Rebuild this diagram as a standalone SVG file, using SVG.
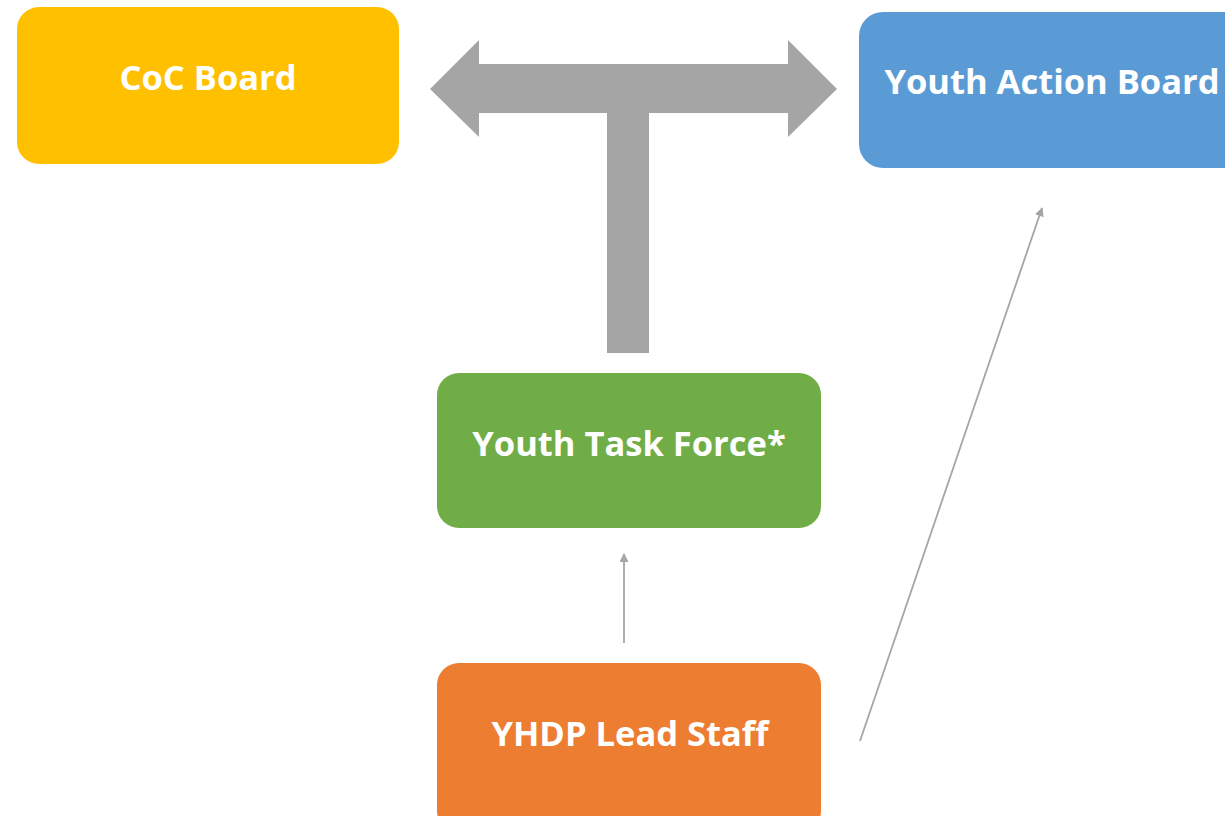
<svg xmlns="http://www.w3.org/2000/svg" width="1225" height="816" viewBox="0 0 1225 816">
  <defs>
    <style>
      .box-label { font-family: "Open Sans", "Liberation Sans", sans-serif; font-weight: 700; font-size: 34.5px; fill: #ffffff; text-anchor: middle; }
      .thin { stroke: #a5a5a5; stroke-width: 1.8; fill: none; marker-end: url(#head); }
    </style>
    <marker id="head" viewBox="0 0 10 10" refX="9" refY="5" markerWidth="10" markerHeight="9" orient="auto" markerUnits="userSpaceOnUse">
      <path d="M0,0 L10,5 L0,10 Z" fill="#a5a5a5"/>
    </marker>
  </defs>
  <rect width="1225" height="816" fill="#ffffff"/>

  <!-- connectors -->
  <g id="connectors">
    <!-- T-shaped double arrow from the task force up to both boards -->
    <path id="t-arrow" d="M430,89 L479,40 L479,64 L788,64 L788,40 L837,89 L788,137 L788,113 L649,113 L649,353 L607,353 L607,113 L479,113 L479,137 Z" fill="#a5a5a5"/>
    <line class="thin" x1="624" y1="643" x2="624" y2="554"/>
    <line class="thin" x1="860" y1="741" x2="1042" y2="208"/>
  </g>

  <g id="coc-board">
    <rect x="17" y="7" width="382" height="157" rx="22" fill="#ffc000"/>
    <text class="box-label" x="208" y="90">CoC Board</text>
  </g>

  <g id="youth-action-board">
    <rect x="859" y="12" width="400" height="156" rx="24" fill="#5b9bd5"/>
    <text class="box-label" x="1052" y="94">Youth Action Board</text>
  </g>

  <g id="youth-task-force">
    <rect x="437" y="373" width="384" height="155" rx="22" fill="#70ad47"/>
    <text class="box-label" x="629" y="456">Youth Task Force*</text>
  </g>

  <g id="yhdp-lead-staff">
    <rect x="437" y="663" width="384" height="170" rx="22" fill="#ed7d31"/>
    <text class="box-label" x="630" y="746">YHDP Lead Staff</text>
  </g>
</svg>
